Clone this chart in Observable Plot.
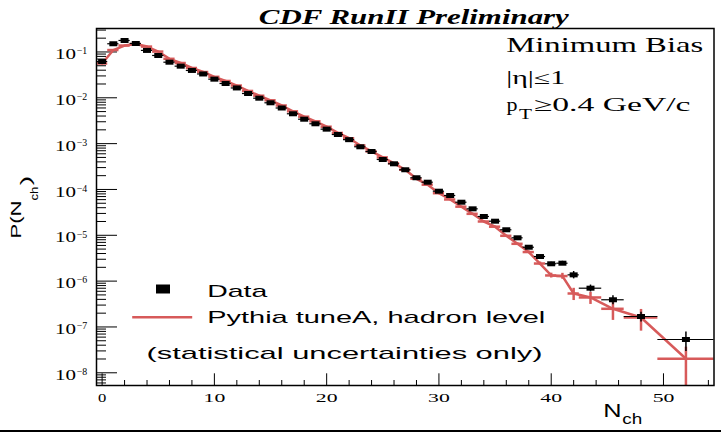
<!DOCTYPE html>
<html>
<head>
<meta charset="utf-8">
<script src="https://cdn.jsdelivr.net/npm/d3@7"></script>
<script src="https://cdn.jsdelivr.net/npm/@observablehq/plot@0.6"></script>
<style>
  html, body { margin: 0; padding: 0; background: #fff; }
  #chart { width: 721px; border-bottom: 2px solid #000; }
  #chart svg { display: block; }
</style>
</head>
<body>
<div id="chart"></div>
<script>
// ---------------- data ----------------
const nch = [0,1,2,3,4,5,6,7,8,9,10,11,12,13,14,15,16,17,18,19,20,21,22,23,24,25,26,27,28,29,30,31,32,33,34,35,36,37,38,39,40,41,42,43.5,45.5,48,52];
const binEdges = [-0.5,0.5,1.5,2.5,3.5,4.5,5.5,6.5,7.5,8.5,9.5,10.5,11.5,12.5,13.5,14.5,15.5,16.5,17.5,18.5,19.5,20.5,21.5,22.5,23.5,24.5,25.5,26.5,27.5,28.5,29.5,30.5,31.5,32.5,33.5,34.5,35.5,36.5,37.5,38.5,39.5,40.5,41.5,42.5,44.5,46.5,49.5,54.5];
const dataP = [0.0619,0.151,0.178,0.153,0.108,0.0838,0.0598,0.0490,0.0395,0.0331,0.0255,0.0205,0.0164,0.0124,0.00980,0.00778,0.00599,0.00448,0.00341,0.00271,0.00207,0.00158,0.00122,8.53e-4,6.73e-4,4.51e-4,3.63e-4,2.69e-4,1.80e-4,1.44e-4,9.16e-5,7.38e-5,5.27e-5,3.78e-5,2.57e-5,2.03e-5,1.32e-5,8.81e-6,5.49e-6,3.44e-6,2.39e-6,2.46e-6,1.37e-6,7.01e-7,3.92e-7,1.69e-7,5.32e-8];
const dataErr = [3e-4,7e-4,8e-4,7e-4,5e-4,4e-4,3e-4,2.4e-4,2e-4,1.6e-4,1.3e-4,1e-4,8e-5,6e-5,5e-5,4e-5,3e-5,2.3e-5,1.8e-5,1.4e-5,1.1e-5,9e-6,7e-6,5e-6,4e-6,3e-6,2.5e-6,2e-6,1.5e-6,1.3e-6,1e-6,9e-7,8e-7,7e-7,6e-7,5e-7,4.5e-7,4e-7,3e-7,2.2e-7,2e-7,2.5e-7,2.5e-7,1.2e-7,8.6e-8,4.1e-8,2.4e-8];
const mcP = [0.0560,0.110,0.138,0.149,0.131,0.102,0.0709,0.0574,0.0447,0.0365,0.0287,0.0233,0.0185,0.0141,0.0111,0.00882,0.00679,0.00507,0.00387,0.00307,0.00234,0.00171,0.00131,9.12e-4,6.76e-4,5.01e-4,3.72e-4,2.69e-4,1.71e-4,1.27e-4,8.28e-5,6.04e-5,4.21e-5,2.94e-5,2.00e-5,1.54e-5,9.75e-6,6.52e-6,4.31e-6,2.42e-6,1.33e-6,1.29e-6,5.37e-7,4.40e-7,2.49e-7,1.61e-7,2.02e-8];
const mcErr = [2e-4,4e-4,5e-4,5e-4,4e-4,3e-4,2.5e-4,2e-4,1.6e-4,1.4e-4,1.1e-4,9e-5,7e-5,5.5e-5,4.5e-5,3.5e-5,2.8e-5,2.2e-5,1.7e-5,1.4e-5,1.1e-5,9e-6,7e-6,5.5e-6,4.5e-6,3.6e-6,3e-6,2.4e-6,1.9e-6,1.6e-6,1.2e-6,1e-6,8e-7,6.5e-7,5e-7,4.2e-7,3.3e-7,2.7e-7,2.2e-7,1.9e-7,1.6e-7,1.9e-7,1.6e-7,1.3e-7,1.1e-7,8e-8,1.6e-8];

const xMajorTicks = [0,10,20,30,40,50];
const xMinorTicks = [2,4,6,8,12,14,16,18,22,24,26,28,32,34,36,38,42,44,46,48,52,54];
const yDecades = [1e-1,1e-2,1e-3,1e-4,1e-5,1e-6,1e-7,1e-8];
const yExponents = ["\u22121","\u22122","\u22123","\u22124","\u22125","\u22126","\u22127","\u22128"];

const titleText = "CDF RunII Preliminary";
const infoText = ["Minimum Bias", "|\u03b7|\u22641", "p", "T", "\u22650.4 GeV/c"];
const legendText = ["Data", "Pythia tuneA, hadron level", "(statistical uncertainties only)"];
const yLabelParts = ["P(N", "ch", ")"];
const xLabelParts = ["N", "ch"];

// ---------------- layout ----------------
const W = 721, H = 430, ML = 96, MR = 7.5, MT = 28, MB = 45;
const FW = W - ML - MR, FH = H - MT - MB;
const xDomain = [-0.5, 54.5];
const yDomain = [5.28e-9, 0.325];
const RED = "#d75a5a";
const SERIF = "'Liberation Serif','Times New Roman',serif";
const SANS = "'Liberation Sans',Arial,sans-serif";

const rows = nch.map((n, i) => ({
  n, lo: binEdges[i], hi: binEdges[i + 1],
  p: dataP[i], e: dataErr[i], mp: mcP[i], me: mcErr[i]
}));
const clampY = v => Math.max(v, yDomain[0]);

const rectSym = (w, h) => ({draw(ctx) { ctx.rect(-w / 2, -h / 2, w, h); }});
const hlineSym = (w) => ({draw(ctx) { ctx.moveTo(-w / 2, 0); ctx.lineTo(w / 2, 0); }});

const yMinor = d3.scaleLog().domain(yDomain).ticks().filter(v => !yDecades.some(d => Math.abs(v / d - 1) < 1e-6));

const stretch = [];
function note(text, X, Y, o) {
  const tag = "note-" + stretch.length;
  stretch.push({tag, len: o.len});
  return Plot.text([text], {
    text: d => d, frameAnchor: "top-left", dx: X - ML, dy: Y - MT,
    fontSize: o.size, fontFamily: o.family, fontWeight: o.weight || "normal",
    fontStyle: o.style || "normal", textAnchor: "start", lineAnchor: "bottom",
    rotate: o.rotate || 0, fill: "black", ariaDescription: tag
  });
}

const marks = [
  // ticks
  Plot.tickY(yDecades, {y: d => d, stroke: "black", strokeWidth: 1, insetRight: FW - 21}),
  Plot.tickY(yMinor, {y: d => d, stroke: "black", strokeWidth: 1, insetRight: FW - 10}),
  Plot.tickX(xMajorTicks, {x: d => d, stroke: "black", strokeWidth: 1, insetTop: FH - 11.7}),
  Plot.tickX(xMinorTicks, {x: d => d, stroke: "black", strokeWidth: 1, insetTop: FH - 5}),
  // tick labels
  Plot.text(yDecades, {y: d => d, text: () => "10", frameAnchor: "left", textAnchor: "end", lineAnchor: "middle",
    dx: -20.5, dy: 2.7, fontSize: 14, fontFamily: SERIF, fill: "black", ariaDescription: "ybase"}),
  Plot.text(yDecades, {y: d => d, text: (d, i) => yExponents[i], frameAnchor: "left", textAnchor: "start", lineAnchor: "middle",
    dx: -19.8, dy: -0.8, fontSize: 9.5, fontFamily: SERIF, fill: "black", ariaDescription: "yexp"}),
  Plot.text(xMajorTicks, {x: d => d, text: d => String(d), frameAnchor: "bottom", lineAnchor: "bottom",
    dy: 16, fontSize: 12.5, fontFamily: SERIF, fill: "black", ariaDescription: "xlab"}),
  // MC (Pythia)
  Plot.ruleY(rows, {x1: "lo", x2: "hi", y: "mp", stroke: RED, strokeWidth: 2.5}),
  Plot.ruleX(rows, {x: "n", y1: d => clampY(d.mp - d.me), y2: d => d.mp + d.me, stroke: RED, strokeWidth: 2.5}),
  Plot.line(rows, {x: "n", y: "mp", stroke: RED, strokeWidth: 2.5}),
  // Data
  Plot.ruleY(rows, {x1: "lo", x2: "hi", y: "p", stroke: "black", strokeWidth: 1.2}),
  Plot.ruleX(rows, {x: "n", y1: d => clampY(d.p - d.e), y2: d => d.p + d.e, stroke: "black", strokeWidth: 1.5}),
  Plot.dot(rows, {x: "n", y: "p", symbol: rectSym(8, 5), fill: "black", stroke: "none"}),
  // frame
  Plot.frame({stroke: "black", strokeWidth: 1.5}),
  // legend glyphs
  Plot.dot([0], {frameAnchor: "top-left", dx: 162.5 - ML, dy: 288.5 - MT, symbol: rectSym(14, 9), fill: "black", stroke: "none"}),
  Plot.dot([0], {frameAnchor: "top-left", dx: 161.7 - ML, dy: 316.7 - MT, symbol: hlineSym(60), fill: "none", stroke: RED, strokeWidth: 2.5}),
  // texts
  note(titleText, 258.3, 23.3, {size: 20, family: SERIF, weight: "bold", style: "italic", len: 310}),
  note(infoText[0], 505.7, 51.7, {size: 21, family: SERIF, len: 197}),
  note(infoText[1], 505.7, 83.3, {size: 18, family: SERIF, len: 59}),
  note(infoText[2], 506, 110, {size: 19, family: SERIF, len: 11}),
  note(infoText[3], 518.5, 118.3, {size: 14, family: SERIF, len: 13}),
  note(infoText[4], 533.3, 110, {size: 19, family: SERIF, len: 156.7}),
  note(legendText[0], 206.7, 296.7, {size: 17, family: SANS, len: 60}),
  note(legendText[1], 206.7, 322.5, {size: 17, family: SANS, len: 338}),
  note(legendText[2], 146, 358.5, {size: 17, family: SANS, len: 396}),
  note(xLabelParts[0], 602.7, 416.7, {size: 19, family: SANS, len: 18.3}),
  note(xLabelParts[1], 621.7, 423.3, {size: 14, family: SANS, len: 20}),
  note(yLabelParts[0], 20.7, 238, {size: 15, family: SANS, len: 38, rotate: -90}),
  note(yLabelParts[1], 37, 200, {size: 11, family: SANS, len: 14, rotate: -90}),
  note(yLabelParts[2], 30, 185, {size: 15, family: SANS, len: 10, rotate: -90})
];

const svg = Plot.plot({
  width: W, height: H,
  marginLeft: ML, marginRight: MR, marginTop: MT, marginBottom: MB,
  x: {domain: xDomain, axis: null},
  y: {type: "log", domain: yDomain, axis: null},
  style: {background: "white", overflow: "visible"},
  marks
});

function setLen(sel, lenFn) {
  svg.querySelectorAll(sel).forEach(t => {
    const L = lenFn(t);
    if (L) { t.setAttribute("textLength", L); t.setAttribute("lengthAdjust", "spacingAndGlyphs"); }
  });
}
for (const {tag, len} of stretch) setLen(`g[aria-description="${tag}"] text`, () => len);
setLen(`g[aria-description="ybase"] text`, () => 21);
setLen(`g[aria-description="yexp"] text`, () => 10.5);
setLen(`g[aria-description="xlab"] text`, t => t.textContent.length === 1 ? 8.3 : 21.7);

document.getElementById("chart").appendChild(svg);
</script>
</body>
</html>
